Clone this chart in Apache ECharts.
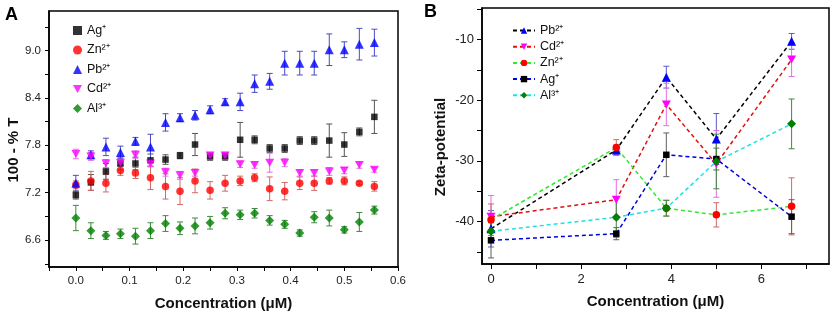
<!DOCTYPE html>
<html>
<head>
<meta charset="utf-8">
<script src="https://cdn.jsdelivr.net/npm/echarts@6/dist/echarts.min.js"></script>
<style>
  html, body { margin: 0; padding: 0; background: #fff; }
  #main { width: 836px; height: 316px; }
</style>
</head>
<body>
<div id="main"></div>
<script>
// ---- panel A : 100 - %T vs concentration ----
const concA = [0, 0.028, 0.056, 0.083, 0.111, 0.139, 0.167, 0.194, 0.222, 0.25, 0.278,
  0.306, 0.333, 0.361, 0.389, 0.417, 0.444, 0.472, 0.5, 0.528, 0.556]
const agA = [7.17, 7.33, 7.47, 7.57, 7.57, 7.61, 7.62, 7.67, 7.81, 7.66, 7.66,
  7.87, 7.87, 7.76, 7.76, 7.86, 7.86, 7.86, 7.81, 7.97, 8.16]
const agAErr = [0.05, 0.1, 0.1, 0.08, 0.08, 0.08, 0.06, 0.04, 0.14, 0.05, 0.05,
  0.22, 0.05, 0.05, 0.05, 0.05, 0.05, 0.21, 0.15, 0.05, 0.21]
const znA = [7.3, 7.35, 7.32, 7.48, 7.45, 7.39, 7.28, 7.22, 7.35, 7.23, 7.32,
  7.35, 7.39, 7.25, 7.22, 7.32, 7.32, 7.35, 7.35, 7.32, 7.28]
const znAErr = [0.05, 0.12, 0.11, 0.06, 0.07, 0.15, 0.16, 0.17, 0.15, 0.11, 0.1,
  0.06, 0.05, 0.15, 0.11, 0.08, 0.09, 0.04, 0.05, 0.02, 0.06]
const pbA = [7.32, 7.68, 7.78, 7.71, 7.85, 7.78, 8.09, 8.15, 8.18, 8.25, 8.35,
  8.35, 8.58, 8.61, 8.84, 8.84, 8.84, 9.01, 9.01, 9.08, 9.1]
const pbAErr = [0.1, 0.05, 0.11, 0.08, 0.05, 0.16, 0.11, 0.05, 0.06, 0.05, 0.04,
  0.11, 0.11, 0.1, 0.15, 0.15, 0.15, 0.2, 0.1, 0.2, 0.17]
const cdA = [7.69, 7.66, 7.57, 7.58, 7.68, 7.57, 7.46, 7.42, 7.45, 7.67, 7.67,
  7.56, 7.55, 7.58, 7.58, 7.45, 7.45, 7.47, 7.48, 7.55, 7.49]
const cdAErr = [0.06, 0.05, 0.05, 0.04, 0.05, 0.04, 0.05, 0.05, 0.04, 0.04, 0.04,
  0.04, 0.04, 0.12, 0.05, 0.04, 0.04, 0.05, 0.04, 0.04, 0.03]
const alA = [6.88, 6.72, 6.66, 6.68, 6.65, 6.72, 6.81, 6.75, 6.78, 6.82, 6.94,
  6.92, 6.94, 6.85, 6.8, 6.69, 6.89, 6.88, 6.73, 6.83, 6.98]
const alAErr = [0.16, 0.1, 0.05, 0.06, 0.1, 0.1, 0.1, 0.08, 0.1, 0.08, 0.07,
  0.06, 0.06, 0.06, 0.05, 0.04, 0.07, 0.1, 0.04, 0.12, 0.05]

const ticksAX = [-0.05, 0, 0.05, 0.1, 0.15, 0.2, 0.25, 0.3, 0.35, 0.4, 0.45, 0.5, 0.55, 0.6]
const labelsAX = [0, 0.1, 0.2, 0.3, 0.4, 0.5, 0.6]
const ticksAY = [6.3, 6.6, 6.9, 7.2, 7.5, 7.8, 8.1, 8.4, 8.7, 9.0, 9.3]
const labelsAY = [6.6, 7.2, 7.8, 8.4, 9.0]

// ---- panel B : zeta potential ----
const concB = [0, 2.78, 3.89, 5.0, 6.67]
const pbB = [-41.2, -28.2, -16.2, -26.4, -10.3]
const pbBErr = [3, 0.8, 1.8, 4.2, 1.3]
const cdB = [-39.2, -36.4, -20.7, -30.5, -13.3]
const cdBErr = [3.5, 3.3, 3.5, 5.5, 2.8]
const znB = [-39.7, -27.8, -37.8, -38.9, -37.5]
const znBErr = [2.6, 1.3, 1.3, 2, 4.7]
const agB = [-43.1, -42.0, -29.0, -29.7, -39.2]
const agBErr = [2.9, 1, 3.6, 1.8, 2.8]
const alB = [-41.6, -39.3, -37.8, -30.1, -23.9]
const alBErr = [1.5, 3.3, 1.3, 4.5, 4.1]

const ticksBX = [0, 1, 2, 3, 4, 5, 6, 7]
const labelsBX = [0, 2, 4, 6]
const ticksBY = [-45, -40, -35, -30, -25, -20, -15, -10, -5]
const labelsBY = [-40, -30, -20, -10]

const FONT = 'Liberation Sans, Arial, sans-serif'
const downTri = 'path://M0,0 L10,0 L5,9 Z'

function pts(xs, ys) {
  return xs.map((x, i) => [x, ys[i]])
}
function errs(xs, ys, es) {
  return xs.map((x, i) => [x, ys[i] - es[i], ys[i] + es[i]])
}

// error bar with caps
function renderErr(params, api) {
  const x = api.value(0)
  const p1 = api.coord([x, api.value(2)])
  const p2 = api.coord([x, api.value(1)])
  const w = 3
  const style = { stroke: api.visual('color'), lineWidth: 1 }
  return {
    type: 'group',
    children: [
      { type: 'line', shape: { x1: p1[0], y1: p1[1], x2: p2[0], y2: p2[1] }, style: style },
      { type: 'line', shape: { x1: p1[0] - w, y1: p1[1], x2: p1[0] + w, y2: p1[1] }, style: style },
      { type: 'line', shape: { x1: p2[0] - w, y1: p2[1], x2: p2[0] + w, y2: p2[1] }, style: style },
    ],
  }
}

function errSeries(name, idx, data, color) {
  return {
    name: name,
    type: 'custom',
    xAxisIndex: idx,
    yAxisIndex: idx,
    renderItem: renderErr,
    itemStyle: { color: color },
    encode: { x: 0, y: [1, 2] },
    data: data,
    z: 1,
  }
}

function axisBase(extra) {
  return Object.assign({
    type: 'value',
    splitLine: { show: false },
    axisLine: { show: true, onZero: false, lineStyle: { color: '#000', width: 1.5 } },
  }, extra)
}

const nameStyle = { fontFamily: FONT, fontWeight: 'bold', fontSize: 15, color: '#111' }
const labelStyle = { fontFamily: FONT, fontSize: 11.5, color: '#222' }

const option = {
  animation: false,
  backgroundColor: '#fff',
  grid: [
    { left: 49, top: 11, width: 349, height: 258, show: true, borderColor: '#000', borderWidth: 1.5 },
    { left: 482, top: 8, width: 347, height: 256, show: true, borderColor: '#000', borderWidth: 1.5 },
  ],
  graphic: [
    { type: 'text', left: 5, top: 6, style: { text: 'A', font: 'bold 18px ' + FONT, fill: '#000' } },
    { type: 'text', left: 424, top: 3, style: { text: 'B', font: 'bold 18px ' + FONT, fill: '#000' } },
  ],
  // 图例 A / B
  legend: [
    {
      orient: 'vertical',
      left: 68,
      top: 19,
      itemWidth: 9,
      itemHeight: 9,
      itemGap: 6.5,
      textStyle: { fontFamily: FONT, fontSize: 12.5, color: '#111' },
      formatter: (n) => n.slice(2),
      data: ['A:Ag⁺', 'A:Zn²⁺', 'A:Pb²⁺', 'A:Cd²⁺', 'A:Al³⁺'],
    },
    {
      orient: 'vertical',
      left: 507,
      top: 19,
      itemWidth: 22,
      itemHeight: 8,
      itemGap: 3.2,
      textStyle: { fontFamily: FONT, fontSize: 12.5, color: '#111' },
      formatter: (n) => n.slice(2),
      data: ['B:Pb²⁺', 'B:Cd²⁺', 'B:Zn²⁺', 'B:Ag⁺', 'B:Al³⁺'],
    },
  ],
  xAxis: [
    axisBase({
      gridIndex: 0,
      min: -0.05,
      max: 0.6,
      name: 'Concentration (μM)',
      nameLocation: 'middle',
      nameGap: 29,
      nameTextStyle: nameStyle,
      axisTick: { show: true, length: 4, customValues: ticksAX, lineStyle: { color: '#000' } },
      axisLabel: Object.assign({ margin: 8, customValues: labelsAX, formatter: (v) => v.toFixed(1) }, labelStyle),
    }),
    axisBase({
      gridIndex: 1,
      min: -0.2,
      max: 7.5,
      name: 'Concentration (μM)',
      nameLocation: 'middle',
      nameGap: 30,
      nameTextStyle: nameStyle,
      axisTick: { show: true, length: 5, customValues: ticksBX, lineStyle: { color: '#000' } },
      axisLabel: Object.assign({ margin: 9, customValues: labelsBX, formatter: (v) => String(v) }, labelStyle, { fontSize: 13 }),
    }),
  ],
  yAxis: [
    axisBase({
      gridIndex: 0,
      min: 6.26,
      max: 9.5,
      name: '100 - % T',
      nameLocation: 'middle',
      nameGap: 20,
      nameTextStyle: Object.assign({ padding: [0, 22, 0, 0] }, nameStyle),
      axisTick: { show: true, length: 4, customValues: ticksAY, lineStyle: { color: '#000' } },
      axisLabel: Object.assign({ margin: 8, customValues: labelsAY, formatter: (v) => v.toFixed(1) }, labelStyle),
    }),
    axisBase({
      gridIndex: 1,
      min: -47,
      max: -4.8,
      name: 'Zeta-potential',
      nameLocation: 'middle',
      nameGap: 34,
      nameTextStyle: Object.assign({ padding: [0, 22, 0, 0] }, nameStyle),
      axisTick: { show: true, length: 5, customValues: ticksBY, lineStyle: { color: '#000' } },
      axisLabel: Object.assign({ margin: 8, customValues: labelsBY, formatter: (v) => String(v) }, labelStyle, { fontSize: 13 }),
    }),
  ],
  series: [
    // A error bars
    errSeries('eA1', 0, errs(concA, agA, agAErr), '#555555'),
    errSeries('eA2', 0, errs(concA, znA, znAErr), '#d06868'),
    errSeries('eA3', 0, errs(concA, pbA, pbAErr), '#4a4ac8'),
    errSeries('eA4', 0, errs(concA, cdA, cdAErr), '#e070e0'),
    errSeries('eA5', 0, errs(concA, alA, alAErr), '#3f8a3f'),
    // A markers
    { name: 'A:Ag⁺', type: 'scatter', xAxisIndex: 0, yAxisIndex: 0, symbol: 'rect', symbolSize: 6.5,
      itemStyle: { color: '#000' }, data: pts(concA, agA), z: 3 },
    { name: 'A:Zn²⁺', type: 'scatter', xAxisIndex: 0, yAxisIndex: 0, symbol: 'circle', symbolSize: 7.5,
      itemStyle: { color: '#ff0000' }, data: pts(concA, znA), z: 3 },
    { name: 'A:Pb²⁺', type: 'scatter', xAxisIndex: 0, yAxisIndex: 0, symbol: 'triangle', symbolSize: 9,
      itemStyle: { color: '#0000ff' }, data: pts(concA, pbA), z: 3 },
    { name: 'A:Cd²⁺', type: 'scatter', xAxisIndex: 0, yAxisIndex: 0, symbol: downTri, symbolSize: [9, 8],
      itemStyle: { color: '#ff00ff' }, data: pts(concA, cdA), z: 3 },
    { name: 'A:Al³⁺', type: 'scatter', xAxisIndex: 0, yAxisIndex: 0, symbol: 'diamond', symbolSize: 9,
      itemStyle: { color: '#008000' }, data: pts(concA, alA), z: 3 },
    // B error bars
    errSeries('eB1', 1, errs(concB, pbB, pbBErr), '#5a5ad0'),
    errSeries('eB2', 1, errs(concB, cdB, cdBErr), '#e070e0'),
    errSeries('eB3', 1, errs(concB, znB, znBErr), '#d06868'),
    errSeries('eB4', 1, errs(concB, agB, agBErr), '#606060'),
    errSeries('eB5', 1, errs(concB, alB, alBErr), '#3f8a3f'),
    // B dashed lines
    { name: 'B:Pb²⁺', type: 'line', xAxisIndex: 1, yAxisIndex: 1, symbol: 'triangle', symbolSize: 9,
      itemStyle: { color: '#0000ff' }, lineStyle: { color: '#000', width: 1.5, type: [4, 3] },
      data: pts(concB, pbB), z: 3 },
    { name: 'B:Cd²⁺', type: 'line', xAxisIndex: 1, yAxisIndex: 1, symbol: downTri, symbolSize: [9, 8],
      itemStyle: { color: '#ff00ff' }, lineStyle: { color: '#e01010', width: 1.5, type: [4, 3] },
      data: pts(concB, cdB), z: 3 },
    { name: 'B:Zn²⁺', type: 'line', xAxisIndex: 1, yAxisIndex: 1, symbol: 'circle', symbolSize: 7.5,
      itemStyle: { color: '#ff0000' }, lineStyle: { color: '#33e833', width: 1.5, type: [4, 3] },
      data: pts(concB, znB), z: 3 },
    { name: 'B:Ag⁺', type: 'line', xAxisIndex: 1, yAxisIndex: 1, symbol: 'rect', symbolSize: 6.5,
      itemStyle: { color: '#000' }, lineStyle: { color: '#0000e0', width: 1.5, type: [4, 3] },
      data: pts(concB, agB), z: 3 },
    { name: 'B:Al³⁺', type: 'line', xAxisIndex: 1, yAxisIndex: 1, symbol: 'diamond', symbolSize: 9,
      itemStyle: { color: '#008000' }, lineStyle: { color: '#22e0e0', width: 1.5, type: [4, 3] },
      data: pts(concB, alB), z: 3 },
  ],
}

echarts.init(document.getElementById('main')).setOption(option)
</script>
</body>
</html>
